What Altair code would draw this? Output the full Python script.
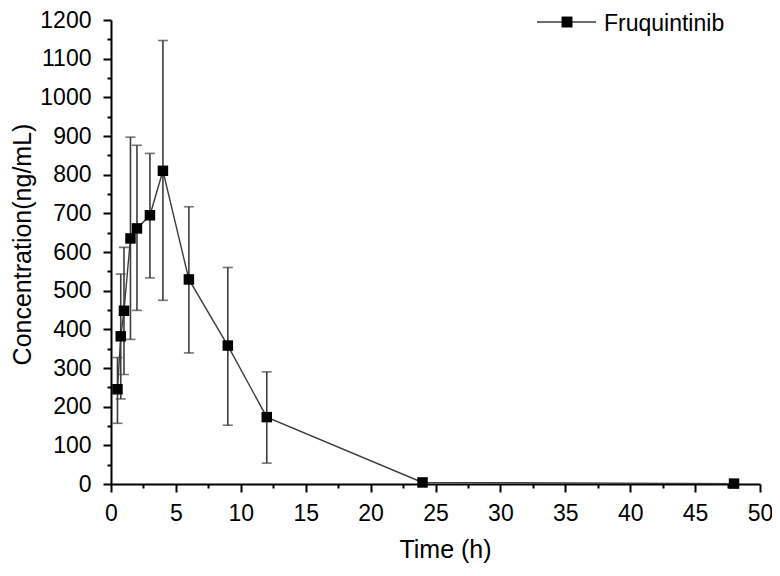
import altair as alt
import pandas as pd

# Data
time_h = [0.5, 0.75, 1, 1.5, 2, 3, 4, 6, 9, 12, 24, 48]
mean_conc = [245, 382, 448, 635, 661, 695, 810, 529, 358, 173, 4, 1]
err_low = [157, 220, 283, 374, 449, 533, 475, 339, 152, 54, None, None]
err_high = [327, 543, 612, 897, 876, 855, 1147, 717, 560, 290, None, None]
series_name = "Fruquintinib"
x_major = [0, 5, 10, 15, 20, 25, 30, 35, 40, 45, 50]
x_minor = [2.5, 7.5, 12.5, 17.5, 22.5, 27.5, 32.5, 37.5, 42.5, 47.5]
y_major = [0, 100, 200, 300, 400, 500, 600, 700, 800, 900, 1000, 1100, 1200]
y_minor = [50, 150, 250, 350, 450, 550, 650, 750, 850, 950, 1050, 1150]

df = pd.DataFrame({"t": time_h, "c": mean_conc, "lo": err_low, "hi": err_high})

FONT = "Liberation Sans"
LINE = "#3c3c3c"

xs = alt.Scale(domain=[0, 50], nice=False)
ys = alt.Scale(domain=[0, 1200], nice=False)

x_main = alt.X("t:Q", scale=xs,
               axis=alt.Axis(values=x_major, title="Time (h)", format="d", orient="bottom",
                             labelOverlap=False, labelFlush=False, tickSize=8,
                             labelPadding=10, titleX=334, titleY=65,
                             titleBaseline="middle", titleAlign="center"))
y_main = alt.Y("c:Q", scale=ys,
               axis=alt.Axis(values=y_major, title="Concentration(ng/mL)", format="d", orient="left",
                             labelOverlap=False, labelFlush=False, tickSize=8,
                             labelPadding=12, titleX=-89, titleY=224,
                             titleBaseline="middle", titleAlign="center", titleAngle=-90))
x_min = alt.X("t:Q", scale=xs,
              axis=alt.Axis(values=x_minor, labels=False, domain=False, tickSize=4,
                            orient="bottom", title=None))
y_min = alt.Y("c:Q", scale=ys,
              axis=alt.Axis(values=y_minor, labels=False, domain=False, tickSize=4,
                            orient="left", title=None))

base = alt.Chart(df)

line = base.mark_line(color=LINE, strokeWidth=1.4).encode(x=x_main, y=y_main)

errdf = base.transform_filter("isValid(datum.lo)")
rules = errdf.mark_rule(color=LINE, strokeWidth=1.6).encode(
    x=alt.X("t:Q", axis=None), y=alt.Y("lo:Q", axis=None), y2="hi:Q")
cap_lo = errdf.mark_tick(color=LINE, thickness=1.6, size=10, orient="horizontal").encode(
    x=alt.X("t:Q", axis=None), y=alt.Y("lo:Q", axis=None))
cap_hi = errdf.mark_tick(color=LINE, thickness=1.6, size=10, orient="horizontal").encode(
    x=alt.X("t:Q", axis=None), y=alt.Y("hi:Q", axis=None))

points = base.mark_square(color="black", size=110, opacity=1).encode(x=x_min, y=y_min)

leg_df = alt.Data(values=[{"name": series_name}])
leg_line = alt.Chart(leg_df).mark_rule(color=LINE, strokeWidth=1.4).encode(
    x=alt.value(426), x2=alt.value(485), y=alt.value(2))
leg_sq = alt.Chart(leg_df).mark_square(color="black", size=120, opacity=1).encode(
    x=alt.value(456), y=alt.value(2))
leg_text = alt.Chart(leg_df).mark_text(align="left", baseline="middle", font=FONT,
                                        fontSize=23, color="black").encode(
    x=alt.value(493), y=alt.value(4), text="name:N")

chart = alt.layer(line, rules, cap_lo, cap_hi, points, leg_line, leg_sq, leg_text).resolve_axis(
    x="independent", y="independent"
).properties(
    width=649, height=464,
    autosize=alt.AutoSizeParams(type="none"),
    padding={"left": 103, "top": 12, "right": 12, "bottom": 84},
).configure_view(stroke=None).configure_axis(
    grid=False, domainColor="black", domainWidth=2, tickColor="black", tickWidth=2,
    labelFont=FONT, labelFontSize=23, labelColor="black",
    titleFont=FONT, titleFontSize=25, titleColor="black", titleFontWeight="normal",
)

chart.save("out.html", embed_options={"renderer": "svg", "actions": False})
